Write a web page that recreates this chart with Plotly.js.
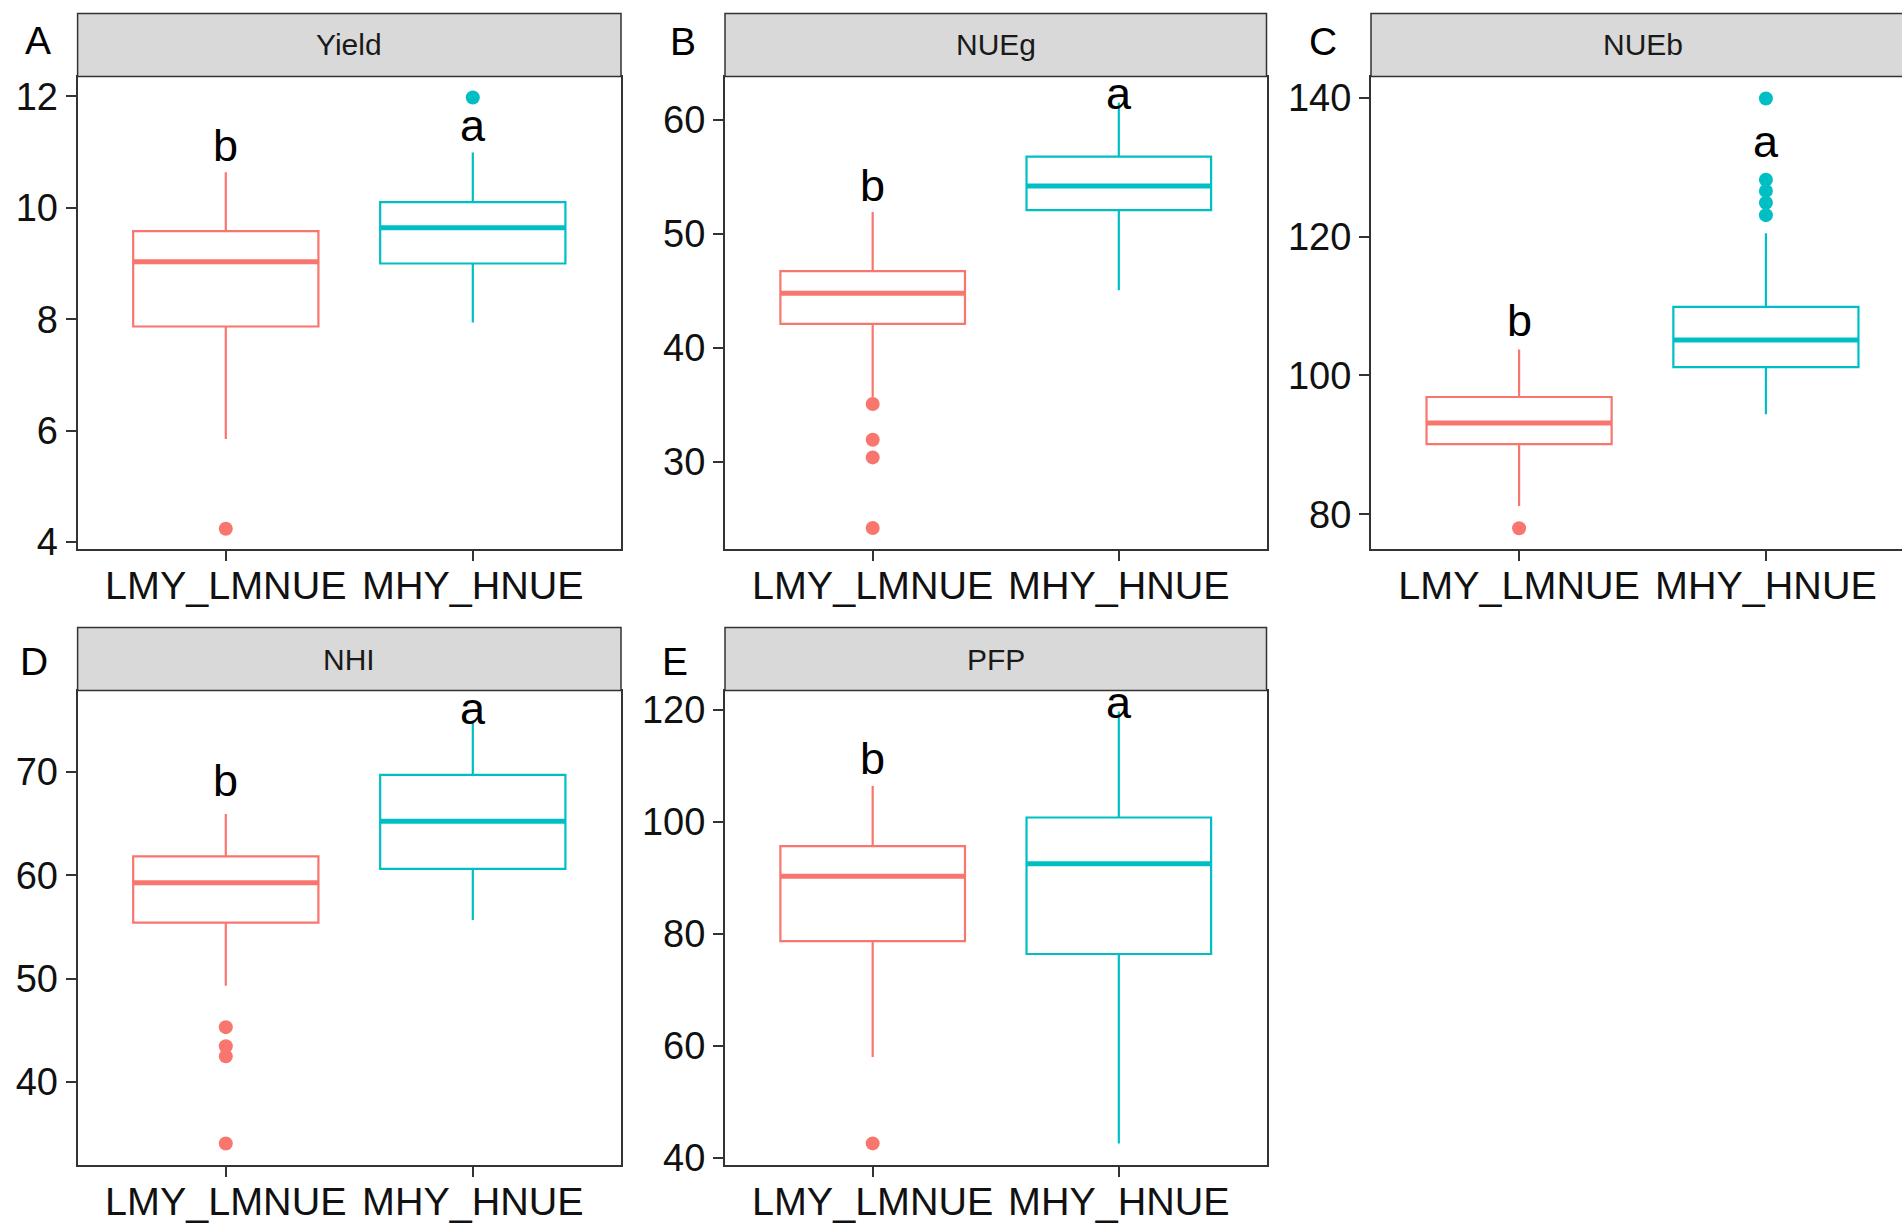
<!DOCTYPE html>
<html>
<head>
<meta charset="utf-8">
<script src="https://cdn.plot.ly/plotly-3.0.1.min.js"></script>
<style>
  html, body { margin: 0; padding: 0; background: #ffffff; overflow: hidden; }
  #chart { width: 1916px; height: 1225px; }
</style>
</head>
<body>
<div id="chart"></div>
<script>
// ---------------- DATA ----------------
const groups = ['LMY_LMNUE', 'MHY_HNUE'];
const panelNames = ['Yield', 'NUEg', 'NUEb', 'NHI', 'PFP'];
const panelLetters = ['A', 'B', 'C', 'D', 'E'];

// LMY_LMNUE box statistics, one value per panel
const lowerLMY  = [5.85, 35.7, 81.2, 49.3, 58.0];
const q1LMY     = [7.87, 42.1, 90.1, 55.42, 78.7];
const medianLMY = [9.03, 44.78, 93.14, 59.29, 90.27];
const q3LMY     = [9.58, 46.72, 96.9, 61.83, 95.67];
const upperLMY  = [10.64, 51.9, 103.75, 65.94, 106.4];
const outliersLMY = [[4.24], [35.08, 31.94, 30.4, 24.21], [78.0], [45.3, 43.45, 42.47, 34.03], [42.6]];

// MHY_HNUE box statistics, one value per panel
const lowerMHY  = [7.94, 45.05, 94.4, 55.68, 42.58];
const q1MHY     = [9.0, 52.07, 101.2, 60.62, 76.4];
const medianMHY = [9.64, 54.18, 105.1, 65.25, 92.5];
const q3MHY     = [10.10, 56.76, 109.9, 69.73, 100.77];
const upperMHY  = [10.99, 61.5, 120.5, 75.0, 119.7];
const outliersMHY = [[11.98], [], [139.9, 128.2, 126.6, 124.9, 123.1], [], []];

// significance letters
const letterLMY  = ['b', 'b', 'b', 'b', 'b'];
const letterMHY  = ['a', 'a', 'a', 'a', 'a'];
const letterYLMY = [11.11, 54.25, 107.88, 69.16, 111.3];
const letterYMHY = [11.47, 62.27, 133.73, 76.19, 121.26];

// y tick values per panel
const yTickVals = [[4, 6, 8, 10, 12], [30, 40, 50, 60], [80, 100, 120, 140], [40, 50, 60, 70], [40, 60, 80, 100, 120]];

// ---------------- LAYOUT CONSTANTS ----------------
const W = 1916, H = 1225;
const colors = ['#F8766D', '#00BFC4'];
const yRanges = [[3.877, 12.356], [22.37, 63.78], [75.0, 143.08], [31.95, 77.9], [38.74, 123.44]];
// panel pixel geometry: [left, right, top, bottom, stripTop]
const geom = [
  [77.6, 621, 76.5, 549, 13.4],
  [725, 1266.5, 76.5, 549, 13.4],
  [1371, 1914, 76.5, 549, 13.4],
  [77.6, 621, 690.5, 1165, 627.6],
  [725, 1266.5, 690.5, 1165, 627.6]
];
const letterPos = [[38, 41], [683, 42], [1323, 42], [34, 661], [675, 661]];
const boxWidth = 0.75;
const FONT = '"Liberation Sans", Arial, Helvetica, sans-serif';

const lowerAll = [lowerLMY, lowerMHY], q1All = [q1LMY, q1MHY], medAll = [medianLMY, medianMHY],
      q3All = [q3LMY, q3MHY], upperAll = [upperLMY, upperMHY], outAll = [outliersLMY, outliersMHY],
      letAll = [letterLMY, letterMHY], letYAll = [letterYLMY, letterYMHY];

const traces = [];
const layout = {
  width: W, height: H,
  margin: {l: 0, r: 0, t: 0, b: 0},
  paper_bgcolor: '#ffffff', plot_bgcolor: '#ffffff',
  showlegend: false,
  font: {family: FONT, color: '#1a1a1a'},
  shapes: [], annotations: []
};

panelNames.forEach((name, p) => {
  const sfx = p === 0 ? '' : String(p + 1);
  const xa = 'x' + sfx, ya = 'y' + sfx;
  const [L, R, T, B, ST] = geom[p];

  layout['xaxis' + sfx] = {
    domain: [L / W, R / W], anchor: ya, range: [0.4, 2.6],
    tickmode: 'array', tickvals: [1, 2], ticktext: groups,
    showgrid: false, zeroline: false, showline: true, mirror: true,
    linecolor: '#333333', linewidth: 2,
    ticks: 'outside', ticklen: 10, tickwidth: 2, tickcolor: '#333333',
    ticklabelstandoff: -9,
    tickfont: {family: FONT, size: 39.5, color: '#111111'}, fixedrange: true
  };
  layout['yaxis' + sfx] = {
    domain: [1 - B / H, 1 - T / H], anchor: xa, range: yRanges[p],
    tickmode: 'array', tickvals: yTickVals[p],
    showgrid: false, zeroline: false, showline: true, mirror: true,
    linecolor: '#333333', linewidth: 2,
    ticks: 'outside', ticklen: 10, tickwidth: 2, tickcolor: '#333333',
    tickfont: {family: FONT, size: 38, color: '#111111'}, fixedrange: true
  };

  // strip
  layout.shapes.push({
    type: 'rect', xref: 'paper', yref: 'paper',
    x0: L / W, x1: R / W, y0: 1 - T / H, y1: 1 - ST / H,
    fillcolor: '#D9D9D9', line: {color: '#333333', width: 1.5}
  });
  layout.annotations.push({
    xref: 'paper', yref: 'paper', x: (L + R) / 2 / W, y: 1 - (T + ST) / 2 / H,
    text: name, showarrow: false, xanchor: 'center', yanchor: 'middle',
    font: {family: FONT, size: 30, color: '#1a1a1a'}
  });
  // panel letter
  layout.annotations.push({
    xref: 'paper', yref: 'paper', x: letterPos[p][0] / W, y: 1 - letterPos[p][1] / H,
    text: panelLetters[p], showarrow: false, xanchor: 'center', yanchor: 'middle',
    font: {family: FONT, size: 39, color: '#000000'}
  });

  groups.forEach((g, gi) => {
    const pos = gi + 1;
    traces.push({
      type: 'box', xaxis: xa, yaxis: ya, name: g,
      x: [pos],
      q1: [q1All[gi][p]], median: [medAll[gi][p]], q3: [q3All[gi][p]],
      lowerfence: [lowerAll[gi][p]], upperfence: [upperAll[gi][p]],
      width: boxWidth, whiskerwidth: 0, boxpoints: false,
      line: {color: colors[gi], width: 2.2}, fillcolor: 'rgba(255,255,255,0)',
      hoverinfo: 'skip'
    });
    // thicker median line
    traces.push({
      type: 'scatter', mode: 'lines', xaxis: xa, yaxis: ya,
      x: [pos - boxWidth / 2, pos + boxWidth / 2],
      y: [medAll[gi][p], medAll[gi][p]],
      line: {color: colors[gi], width: 5}, hoverinfo: 'skip'
    });
    // outliers
    const outs = outAll[gi][p];
    if (outs.length) {
      traces.push({
        type: 'scatter', mode: 'markers', xaxis: xa, yaxis: ya,
        x: outs.map(() => pos), y: outs,
        marker: {color: colors[gi], size: 14}, hoverinfo: 'skip'
      });
    }
    // significance letter
    layout.annotations.push({
      xref: xa, yref: ya, x: pos, y: letYAll[gi][p],
      text: letAll[gi][p], showarrow: false, xanchor: 'center', yanchor: 'middle',
      font: {family: FONT, size: 45, color: '#000000'}
    });
  });
});

Plotly.newPlot('chart', traces, layout, {staticPlot: true, displayModeBar: false});
</script>
</body>
</html>
